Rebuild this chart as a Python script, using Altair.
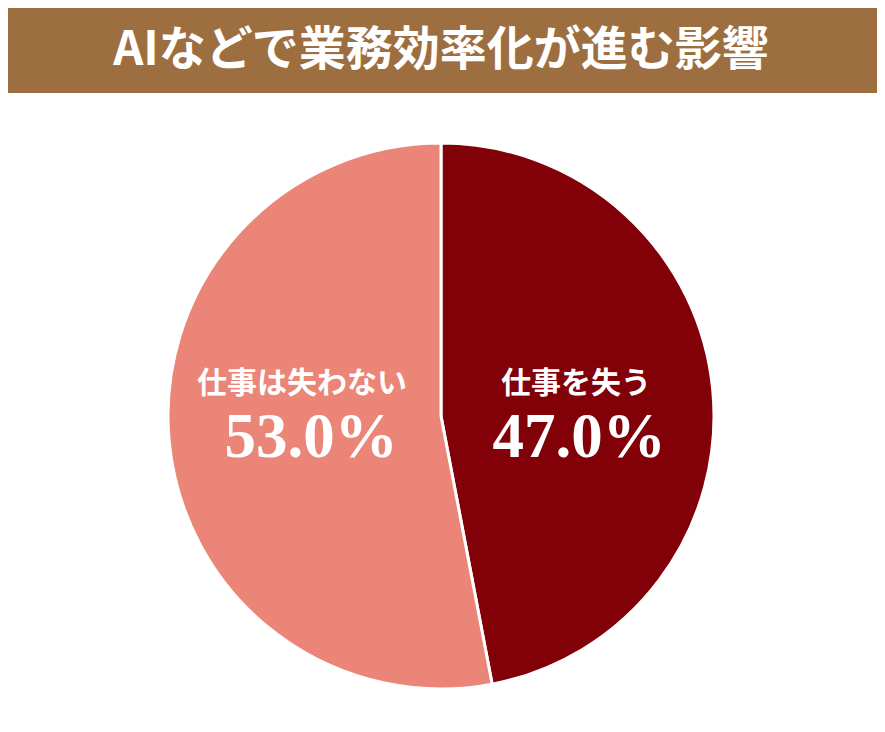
import altair as alt
import pandas as pd

title_text = "AIなどで業務効率化が進む影響"
categories = ["仕事を失う", "仕事は失わない"]
values = [47.0, 53.0]
colors = ["#820008", "#EA8577"]

df = pd.DataFrame({
    "category": categories,
    "value": values,
    "order": list(range(len(categories))),
    "pct": [f"{v:.1f}%" for v in values],
})

W, H = 869, 716
CX, CY, R = 433, 408, 273

bar = alt.Chart(pd.DataFrame({"t": [title_text]})).mark_rect(color="#9D6E40").encode(
    x=alt.value(0), x2=alt.value(W), y=alt.value(0), y2=alt.value(85)
)
title = alt.Chart(pd.DataFrame({"t": [title_text]})).mark_text(
    font="Noto Sans CJK JP", fontSize=47, fontWeight="bold", color="white",
    align="center", baseline="middle"
).encode(text="t:N", x=alt.value(CX), y=alt.value(43))

pie = alt.Chart(df).mark_arc(outerRadius=R, stroke="white", strokeWidth=3).encode(
    theta=alt.Theta("value:Q", stack=True),
    color=alt.Color("category:N", scale=alt.Scale(domain=categories, range=colors), legend=None),
    order=alt.Order("order:Q"),
    x=alt.value(CX), y=alt.value(CY),
)

layers = [bar, title, pie]
name_x = {categories[0]: 568, categories[1]: 294}
num_x = {categories[0]: 571, categories[1]: 303}
for c in categories:
    base = alt.Chart(df).transform_filter(alt.datum.category == c)
    layers.append(base.mark_text(
        font="Noto Sans CJK JP", fontSize=30, fontWeight="bold", color="white",
        align="center", baseline="middle"
    ).encode(text="category:N", x=alt.value(name_x[c]), y=alt.value(376)))
    layers.append(base.mark_text(
        font="Liberation Serif", fontSize=63, fontWeight="bold", color="white",
        align="center", baseline="middle"
    ).encode(text="pct:N", x=alt.value(num_x[c]), y=alt.value(430)))

chart = alt.layer(*layers).properties(
    width=W, height=H, padding=0, autosize="none", background="white"
).configure_view(stroke=None)

chart.save("out.html", embed_options={"renderer": "svg", "actions": False})
